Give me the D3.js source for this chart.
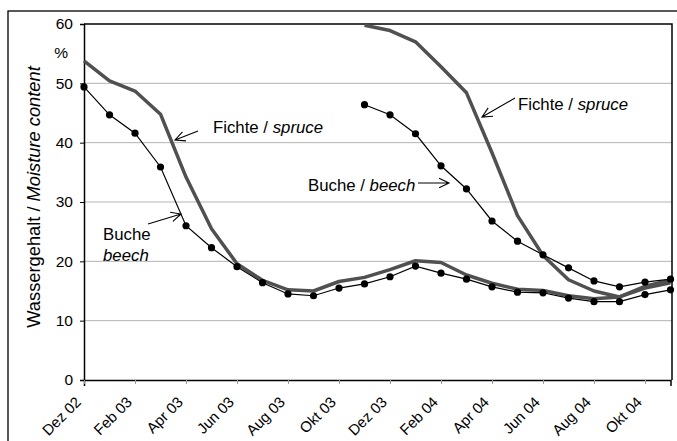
<!DOCTYPE html>
<html>
<head>
<meta charset="utf-8">
<script src="https://cdn.jsdelivr.net/npm/d3@7"></script>
<style>
  body { margin: 0; background: #fff; }
  svg { display: block; font-family: "Liberation Sans", Arial, sans-serif; }
</style>
</head>
<body>
<div id="chart"></div>
<script>
// months from Dez 02 (index 0) to Nov 04 (index 23)
const tickLabels = ["Dez 02", "Feb 03", "Apr 03", "Jun 03", "Aug 03", "Okt 03",
                    "Dez 03", "Feb 04", "Apr 04", "Jun 04", "Aug 04", "Okt 04"];
const yTicks = [0, 10, 20, 30, 40, 50, 60];

// beech, first batch (Dez 02 .. Nov 04)
const buche1 = [49.4, 44.7, 41.6, 35.9, 26.0, 22.3, 19.1, 16.4, 14.5, 14.2, 15.5, 16.2,
                17.4, 19.2, 18.0, 17.0, 15.7, 14.8, 14.7, 13.8, 13.2, 13.2, 14.4, 15.2];
// beech, second batch (Nov 03 .. Nov 04)
const buche2Start = 11;
const buche2 = [46.4, 44.7, 41.5, 36.1, 32.2, 26.8, 23.4, 21.1, 18.9, 16.7, 15.7, 16.5, 17.0];
// spruce, first batch
const fichte1 = [53.8, 50.4, 48.7, 44.8, 34.2, 25.5, 19.6, 16.8, 15.2, 15.0, 16.6, 17.3,
                 18.6, 20.1, 19.8, 17.7, 16.3, 15.3, 15.1, 14.2, 13.7, 14.0, 15.5, 16.4];
// spruce, second batch
const fichte2Start = 11;
const fichte2 = [59.8, 58.9, 57.0, 52.8, 48.4, 38.3, 27.7, 21.0, 16.9, 15.0, 14.0, 15.8, 16.8];

const width = 677, height = 441;

const svg = d3.select("#chart").append("svg")
    .attr("width", width)
    .attr("height", height);

// outer frame
svg.append("rect")
    .attr("x", 8).attr("y", 11)
    .attr("width", 720).attr("height", 500)
    .attr("fill", "none")
    .attr("stroke", "#000")
    .attr("stroke-width", 1.3);

const x = d3.scaleLinear().domain([0, 23]).range([84, 670.5]);
const y = d3.scaleLinear().domain([0, 60]).range([380, 24]);

// gridlines
svg.append("g")
    .selectAll("line")
    .data(yTicks.filter(d => d > 0 && d < 60))
    .join("line")
    .attr("x1", 84).attr("x2", 672)
    .attr("y1", d => y(d)).attr("y2", d => y(d))
    .attr("stroke", "#b4b4b4")
    .attr("stroke-width", 1);

// plot frame top and right
svg.append("path")
    .attr("d", `M84,${y(60)}H672V${y(0)}`)
    .attr("fill", "none")
    .attr("stroke", "#000")
    .attr("stroke-width", 1.5);

// y axis
const yAxis = svg.append("g")
    .attr("transform", "translate(84,0)")
    .call(d3.axisLeft(y).tickValues(yTicks).tickSize(4).tickPadding(7));
yAxis.select(".domain").attr("stroke-width", 1.5);
yAxis.selectAll("text")
    .attr("font-size", 15.5)
    .attr("font-family", "Liberation Sans, Arial, sans-serif")
    .attr("fill", "#000");

svg.append("text")
    .attr("x", 68).attr("y", 58)
    .attr("text-anchor", "end")
    .attr("font-size", 15.5)
    .text("%");

// x axis
const xAxis = svg.append("g")
    .attr("transform", `translate(0,${y(0)})`)
    .call(d3.axisBottom(x)
        .tickValues(d3.range(0, 24, 2))
        .tickFormat(""));
xAxis.select(".domain").attr("stroke-width", 1.5);
xAxis.selectAll(".tick line").attr("stroke", "#999").attr("y2", 4);

svg.append("g")
    .selectAll("text")
    .data(tickLabels)
    .join("text")
    .attr("transform", (d, i) => `translate(${x(i * 2) - 2},${y(0) + 23}) rotate(-45)`)
    .attr("text-anchor", "end")
    .attr("font-size", 15)
    .text(d => d);

// y title
const yTitle = svg.append("text")
    .attr("transform", `translate(40,197) rotate(-90)`)
    .attr("text-anchor", "middle")
    .attr("font-size", 18.3);
yTitle.append("tspan").text("Wassergehalt / ");
yTitle.append("tspan").attr("font-style", "italic").text("Moisture content");

// lines
const line = d3.line()
    .x(d => x(d.i))
    .y(d => y(d.v));

const toPts = (arr, start) => arr.map((v, k) => ({ i: start + k, v }));

const spruceSeries = [toPts(fichte1, 0), toPts(fichte2, fichte2Start)];
const beechSeries = [toPts(buche1, 0), toPts(buche2, buche2Start)];

svg.append("g")
    .selectAll("path")
    .data(spruceSeries)
    .join("path")
    .attr("d", line)
    .attr("fill", "none")
    .attr("stroke", "#505050")
    .attr("stroke-width", 3.5)
    .attr("stroke-linejoin", "round");

const beech = svg.append("g");
beech.selectAll("path")
    .data(beechSeries)
    .join("path")
    .attr("d", line)
    .attr("fill", "none")
    .attr("stroke", "#000")
    .attr("stroke-width", 1.2);

beech.selectAll("circle")
    .data(beechSeries.flat())
    .join("circle")
    .attr("cx", d => x(d.i))
    .attr("cy", d => y(d.v))
    .attr("r", 3.6)
    .attr("fill", "#000");

// annotations
const arrow = (x1, y1, x2, y2) => {
    const a = Math.atan2(y1 - y2, x1 - x2);
    const h = 11, s = 0.45;
    svg.append("path")
        .attr("d", `M${x1},${y1}L${x2},${y2}` +
            `M${x2 + h * Math.cos(a + s)},${y2 + h * Math.sin(a + s)}L${x2},${y2}` +
            `L${x2 + h * Math.cos(a - s)},${y2 + h * Math.sin(a - s)}`)
        .attr("fill", "none")
        .attr("stroke", "#000")
        .attr("stroke-width", 1.1);
};

const label = (tx, ty, plain, ital) => {
    const t = svg.append("text")
        .attr("x", tx).attr("y", ty)
        .attr("font-size", 16.8);
    t.append("tspan").text(plain);
    t.append("tspan").attr("font-style", "italic").text(ital);
};

label(213, 133, "Fichte / ", "spruce");
arrow(198, 131, 175, 140);

label(518, 110, "Fichte / ", "spruce");
arrow(515, 98, 482, 117);

label(308, 191, "Buche / ", "beech");
arrow(418, 183, 449, 183);

svg.append("text").attr("x", 103).attr("y", 240).attr("font-size", 16.8).text("Buche");
svg.append("text").attr("x", 103).attr("y", 261).attr("font-size", 16.8)
    .attr("font-style", "italic").text("beech");
arrow(148, 224, 181, 214);
</script>
</body>
</html>
